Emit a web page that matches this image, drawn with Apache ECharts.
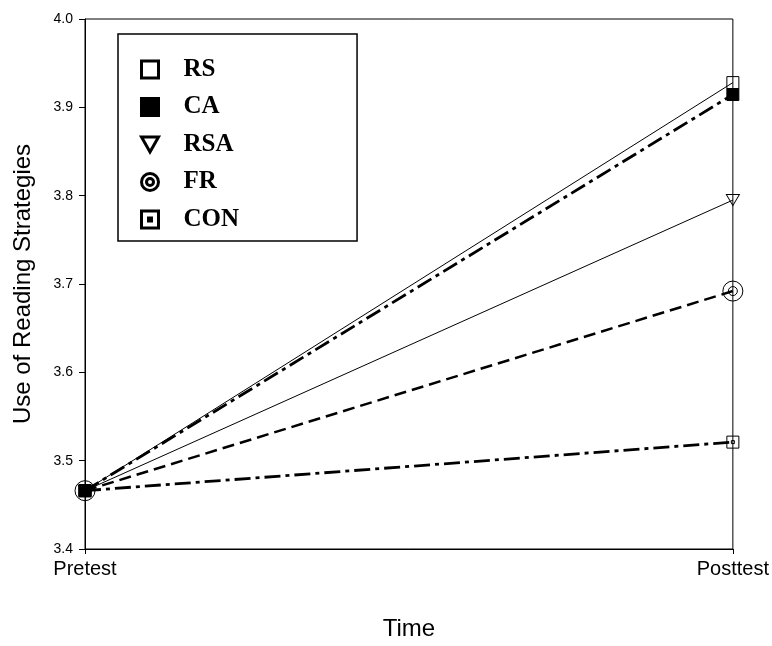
<!DOCTYPE html>
<html>
<head>
<meta charset="utf-8">
<script src="https://cdn.jsdelivr.net/npm/echarts@6/dist/echarts.min.js"></script>
<style>html,body{margin:0;padding:0;background:#fff;}#c{width:772px;height:646px;}</style>
</head>
<body>
<div id="c"></div>
<script>
var categories = ['Pretest', 'Posttest'];
var seriesNames = ['RS', 'CA', 'RSA', 'FR', 'CON'];
var rsValues  = [3.466, 3.928];
var caValues  = [3.466, 3.9145];
var rsaValues = [3.466, 3.795];
var frValues  = [3.466, 3.692];
var conValues = [3.466, 3.521];
var yTicks = {min: 3.4, max: 4.0, interval: 0.1};

var chart = echarts.init(document.getElementById('c'), null, {renderer: 'canvas'});

var SQ = 'path://M0 0 H12 V12 H0 Z';
var TRI = 'path://M0 0 H13 L6.5 11 Z';
var RING = 'path://M10 0 A10 10 0 1 1 10 20 A10 10 0 1 1 10 0 Z M10 5.5 A4.5 4.5 0 1 1 10 14.5 A4.5 4.5 0 1 1 10 5.5 Z';
var CONSYM = 'path://M0 0 H12 V12 H0 Z M4.5 4.5 H7.5 V7.5 H4.5 Z';

var L_SQ = 'path://M0 0 H17 V17 H0 Z';
var L_TRI = 'path://M0 0 H17 L8.5 15 Z';
var L_RING = 'path://M8.5 0 A8.5 8.5 0 1 1 8.5 17 A8.5 8.5 0 1 1 8.5 0 Z M8.5 5 A3.5 3.5 0 1 1 8.5 12 A3.5 3.5 0 1 1 8.5 5 Z';
var L_CON = 'path://M0 0 H17 V17 H0 Z M7 7 H10 V10 H7 Z';

var hollow = {color: 'rgba(0,0,0,0)', borderColor: '#000', borderWidth: 1};

function mk(name, data, lineType, width, symbol, size, itemStyle) {
  return {
    name: name, type: 'line', data: data,
    symbol: symbol, symbolSize: size, showSymbol: true,
    lineStyle: {color: '#000', width: width, type: lineType, cap: 'butt'},
    itemStyle: itemStyle,
    emphasis: {disabled: true},
    animation: false
  };
}

var legendStyle = function (icon, fill) {
  return {icon: icon, itemStyle: {color: fill, borderColor: '#000', borderWidth: 3}};
};

chart.setOption({
  backgroundColor: '#fff',
  animation: false,
  grid: {left: 85, right: 38, top: 19, bottom: 94, show: true, borderColor: '#000', borderWidth: 1, backgroundColor: 'rgba(0,0,0,0)'},
  legend: {
    orient: 'vertical', left: 118, top: 34,
    padding: [23, 118, 9, 22],
    itemGap: 12.5,
    itemWidth: 17, itemHeight: 17,
    borderColor: '#000', borderWidth: 1.5,
    textStyle: {fontFamily: 'Liberation Serif', fontWeight: 'bold', fontSize: 25, color: '#000', padding: [0, 0, 0, 20]},
    selectedMode: false,
    data: [
      Object.assign({name: 'RS'}, legendStyle(L_SQ, '#fff')),
      Object.assign({name: 'CA'}, legendStyle(L_SQ, '#000')),
      Object.assign({name: 'RSA'}, legendStyle(L_TRI, '#fff')),
      Object.assign({name: 'FR'}, legendStyle(L_RING, '#fff')),
      Object.assign({name: 'CON'}, legendStyle(L_CON, '#fff'))
    ]
  },
  xAxis: {
    type: 'category', data: categories, boundaryGap: false,
    name: 'Time', nameLocation: 'middle', nameGap: 68,
    nameTextStyle: {fontFamily: 'Liberation Sans', fontSize: 24, color: '#000'},
    axisLine: {lineStyle: {color: '#000', width: 1}},
    axisTick: {show: true, length: 5, lineStyle: {color: '#000'}},
    axisLabel: {fontFamily: 'Liberation Sans', fontSize: 20, color: '#000', margin: 10},
    splitLine: {show: false}
  },
  yAxis: {
    type: 'value', min: yTicks.min, max: yTicks.max, interval: yTicks.interval,
    name: 'Use of Reading Strategies', nameLocation: 'middle', nameGap: 50, nameRotate: 90,
    nameTextStyle: {fontFamily: 'Liberation Sans', fontSize: 24, color: '#000'},
    axisLine: {show: true, lineStyle: {color: '#000', width: 1}},
    axisTick: {show: true, length: 6, lineStyle: {color: '#000'}},
    axisLabel: {fontFamily: 'Liberation Sans', fontSize: 14, color: '#000', margin: 12,
      formatter: function (v) { return v.toFixed(1); }},
    splitLine: {show: false}
  },
  series: [
    mk('RS', rsValues, 'solid', 1, SQ, 12, hollow),
    mk('RSA', rsaValues, 'solid', 1, TRI, [13, 11], hollow),
    mk('FR', frValues, [12, 6], 2.5, RING, 20, hollow),
    mk('CON', conValues, [16, 5, 4, 5], 2.8, CONSYM, 12, hollow),
    mk('CA', caValues, [16, 5, 4, 5], 2.8, SQ, 12, {color: '#000', borderColor: '#000', borderWidth: 1})
  ]
});
</script>
</body>
</html>
